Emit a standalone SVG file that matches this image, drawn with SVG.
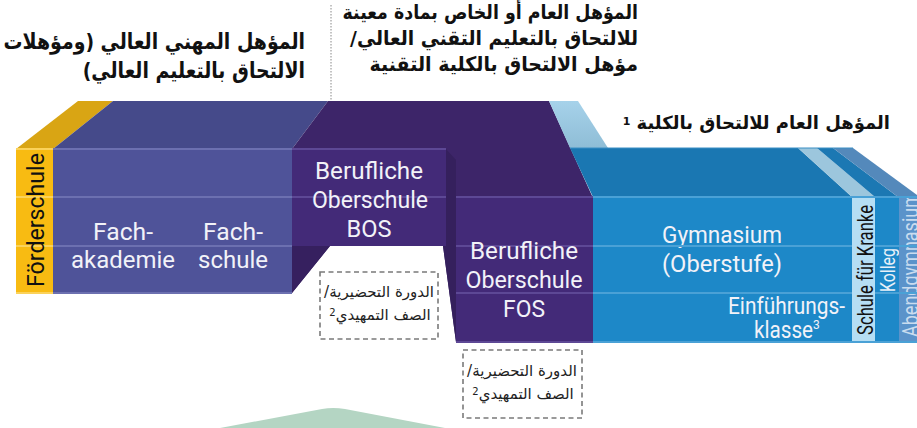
<svg xmlns="http://www.w3.org/2000/svg" width="917" height="428" viewBox="0 0 917 428">
<defs>
<style>
.lbl{font-family:Roboto,"DejaVu Sans",sans-serif;font-size:24px;fill:#f2f2f8;text-anchor:middle}
.ar{font-family:"DejaVu Sans",sans-serif;font-weight:bold;fill:#111;direction:rtl;text-anchor:start}
.arb{font-family:"DejaVu Sans",sans-serif;font-size:15px;fill:#222;direction:rtl;text-anchor:middle}
.ln{stroke-width:2;fill:none}
.box{fill:none;stroke:#7a7a7a;stroke-width:1.6;stroke-dasharray:5,3.5}
</style>
<linearGradient id="lb" x1="0" y1="0" x2="0" y2="1"><stop offset="0" stop-color="#a6d2ea"/><stop offset="1" stop-color="#8fbdd6"/></linearGradient>
<clipPath id="abc"><rect x="899" y="197" width="18" height="145"/></clipPath>
</defs>

<!-- header texts -->
<g id="hdr-left">
<text class="ar" transform="translate(305,49) scale(0.86,1)" x="0" y="0" font-size="22">المؤهل المهني العالي (ومؤهلات</text>
<text class="ar" transform="translate(305,78) scale(0.86,1)" x="0" y="0" font-size="22">الالتحاق بالتعليم العالي)</text>
</g>
<line x1="331" y1="5" x2="331" y2="100" stroke="#888" stroke-width="1" stroke-dasharray="1.5,1.5"/>
<g id="hdr-mid">
<text class="ar" transform="translate(638,19) scale(0.87,1)" x="0" y="0" font-size="20">المؤهل العام أو الخاص بمادة معينة</text>
<text class="ar" transform="translate(638,45) scale(0.94,1)" x="0" y="0" font-size="20">للالتحاق بالتعليم التقني العالي/</text>
<text class="ar" transform="translate(638,71) scale(0.95,1)" x="0" y="0" font-size="20">مؤهل الالتحاق بالكلية التقنية</text>
</g>
<g id="hdr-right">
<text class="ar" x="890" y="129" font-size="18">المؤهل العام للالتحاق بالكلية <tspan font-size="11" baseline-shift="35%">1</tspan></text>
</g>

<!-- Förderschule -->
<g id="foerderschule">
<polygon points="16,149 53,149 113,101 78,101" fill="#d9a514"/>
<rect x="16" y="149" width="37" height="144" fill="#f8bb12"/>
<g class="ln" stroke="#fbd25a"><line x1="16" y1="149" x2="53" y2="149"/><line x1="16" y1="197" x2="53" y2="197"/><line x1="16" y1="246" x2="53" y2="246"/><line x1="16" y1="293" x2="53" y2="293"/></g>
<text transform="translate(44,220) rotate(-90)" font-family="Roboto,sans-serif" font-size="24" fill="#111" text-anchor="middle" textLength="134" lengthAdjust="spacingAndGlyphs">Förderschule</text>
</g>

<!-- Fachakademie / Fachschule -->
<g id="fach">
<polygon points="53,149 292,149 328,101 113,101" fill="#454a8a"/>
<rect x="53" y="149" width="239" height="144" fill="#4f5399"/>
<g class="ln" stroke="#6c70b0"><line x1="53" y1="149" x2="292" y2="149"/><line x1="53" y1="197" x2="292" y2="197"/><line x1="53" y1="246" x2="292" y2="246"/><line x1="53" y1="293" x2="292" y2="293"/></g>
<text class="lbl" x="123" y="240" textLength="60" lengthAdjust="spacingAndGlyphs">Fach-</text>
<text class="lbl" x="123" y="268" textLength="104" lengthAdjust="spacingAndGlyphs">akademie</text>
<text class="lbl" x="233" y="240" textLength="60" lengthAdjust="spacingAndGlyphs">Fach-</text>
<text class="lbl" x="233" y="268" textLength="70" lengthAdjust="spacingAndGlyphs">schule</text>
</g>

<!-- purple body -->
<g id="purple">
<polygon points="292,149 328,101 549,101 593,198 593,342 456,342 443,246 330,246 292,293" fill="#3d2569"/>
<polygon points="292,246 330,246 292,293" fill="#36205f"/>
<polygon points="446,149 456,160 456,342 443,246 446,246" fill="#35205d"/>
</g>

<g id="bos">
<rect x="292" y="149" width="154" height="97" fill="#432a78"/>
<g class="ln" stroke="#5d4895"><line x1="292" y1="149" x2="446" y2="149"/><line x1="292" y1="197" x2="446" y2="197"/></g>
<text class="lbl" x="369" y="179" textLength="108" lengthAdjust="spacingAndGlyphs">Berufliche</text>
<text class="lbl" x="370" y="208" textLength="116" lengthAdjust="spacingAndGlyphs">Oberschule</text>
<text class="lbl" x="369" y="237" textLength="45" lengthAdjust="spacingAndGlyphs">BOS</text>
</g>

<g id="fos">
<rect x="456" y="197" width="137" height="145" fill="#432a78"/>
<g class="ln" stroke="#5d4895"><line x1="456" y1="197" x2="593" y2="197"/><line x1="456" y1="246" x2="593" y2="246"/><line x1="456" y1="293" x2="593" y2="293"/><line x1="456" y1="342" x2="593" y2="342"/></g>
<text class="lbl" x="524" y="259" textLength="108" lengthAdjust="spacingAndGlyphs">Berufliche</text>
<text class="lbl" x="524" y="288" textLength="117" lengthAdjust="spacingAndGlyphs">Oberschule</text>
<text class="lbl" x="524" y="317" textLength="42" lengthAdjust="spacingAndGlyphs">FOS</text>
</g>

<!-- blue tops -->
<g id="blue-tops">
<polygon points="549,101 578,101 608,148 570,148" fill="url(#lb)"/>
<polygon points="570,148 798,148 852,197 593,197" fill="#1a77b2"/>
<polygon points="798,148 817,148 875,197 852,197" fill="#9cc6dd"/>
<polygon points="817,148 833,148 898,197 875,197" fill="#1c78b3"/>
<polygon points="833,148 853,148 917,195 917,197 898,197" fill="#5489bb"/>
<line x1="570" y1="148" x2="853" y2="148" stroke="#3a8fc4" stroke-width="1"/>
</g>

<g id="gymnasium">
<rect x="593" y="197" width="259" height="145" fill="#1d88c8"/>
<text class="lbl" x="722" y="243" font-size="25" textLength="120" lengthAdjust="spacingAndGlyphs">Gymnasium</text>
<text class="lbl" x="722" y="272" font-size="25" textLength="120" lengthAdjust="spacingAndGlyphs">(Oberstufe)</text>
<text class="lbl" x="845" y="314" font-size="21" style="text-anchor:end" textLength="117" lengthAdjust="spacingAndGlyphs">Einführungs-</text>
<text class="lbl" x="754" y="338" font-size="21" style="text-anchor:start"><tspan textLength="59" lengthAdjust="spacingAndGlyphs">klasse</tspan><tspan font-size="12" dy="-9">3</tspan></text>
</g>

<g id="schule-kranke">
<rect x="852" y="197" width="23" height="145" fill="#b5def4"/>
<text transform="translate(873,270) rotate(-90)" font-family="Roboto,sans-serif" font-size="22" fill="#111" text-anchor="middle" textLength="130" lengthAdjust="spacingAndGlyphs">Schule für Kranke</text>
</g>

<g id="kolleg">
<rect x="875" y="197" width="24" height="145" fill="#1d88c8"/>
<text transform="translate(895,270) rotate(-90)" font-family="Roboto,sans-serif" font-size="20" fill="#e8f0f8" text-anchor="middle" textLength="44" lengthAdjust="spacingAndGlyphs">Kolleg</text>
</g>

<g id="abendgymnasium">
<rect x="899" y="197" width="18" height="145" fill="#5b93ca"/>
<g clip-path="url(#abc)">
<text transform="translate(918,337) rotate(-90)" font-family="Roboto,sans-serif" font-size="22" fill="#c9dcef" text-anchor="start" textLength="145" lengthAdjust="spacingAndGlyphs">Abendgymnasium</text>
</g>
</g>

<g class="ln" stroke="#4aa1d6" stroke-width="1.5">
<line x1="593" y1="197" x2="917" y2="197"/><line x1="593" y1="246" x2="852" y2="246"/><line x1="593" y1="293" x2="852" y2="293"/><line x1="593" y1="342" x2="917" y2="342"/>
<line x1="875" y1="246" x2="917" y2="246"/><line x1="875" y1="293" x2="917" y2="293"/>
</g>

<!-- dashed boxes -->
<g id="prep1">
<rect class="box" x="320" y="272" width="118" height="67"/>
<text class="arb" x="379" y="297">الدورة التحضيرية/</text>
<text class="arb" x="380" y="320">الصف التمهيدي<tspan font-size="10" baseline-shift="40%">2</tspan></text>
</g>
<g id="prep2">
<rect class="box" x="463" y="350" width="119" height="68"/>
<text class="arb" x="522" y="376">الدورة التحضيرية/</text>
<text class="arb" x="523" y="399">الصف التمهيدي<tspan font-size="10" baseline-shift="40%">2</tspan></text>
</g>

<!-- green shape -->
<path d="M220,428 L322,409 Q333,407 345,409 L445,428 Z" fill="#b4d5c3"/>
</svg>
